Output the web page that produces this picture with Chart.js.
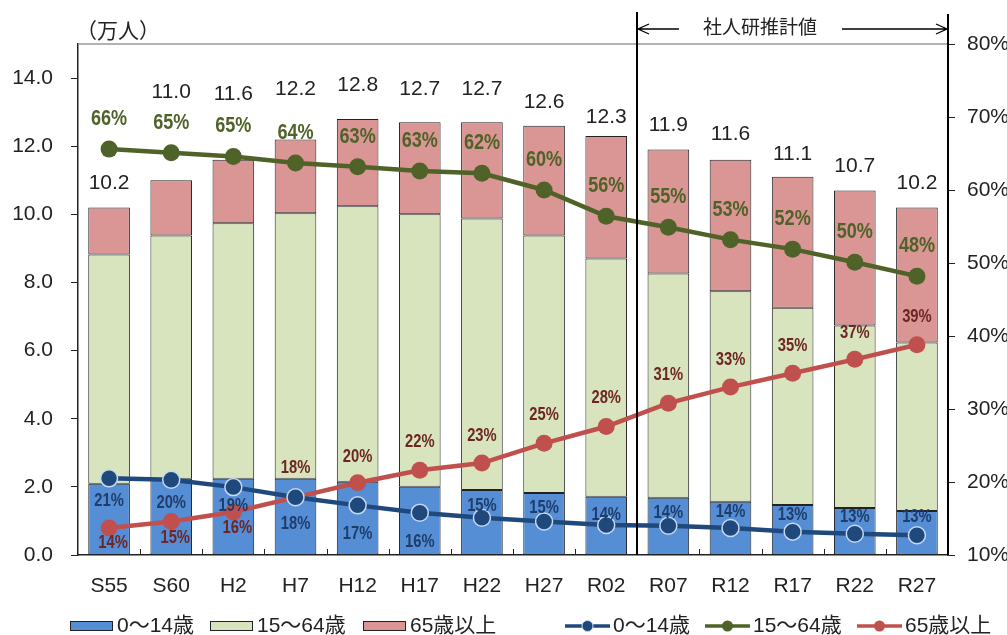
<!DOCTYPE html>
<html>
<head>
<meta charset="utf-8">
<script src="https://cdn.jsdelivr.net/npm/chart.js@4"></script>
<style>
  html, body { margin: 0; padding: 0; background: #fff; }
  #wrap { width: 1007px; height: 635px; }
</style>
</head>
<body>
<div id="wrap"><canvas id="popChart" width="1007" height="635"></canvas></div>
<script>
// 年次
const categories = ['S55', 'S60', 'H2', 'H7', 'H12', 'H17', 'H22', 'H27', 'R02', 'R07', 'R12', 'R17', 'R22', 'R27'];

// 人口（万人）
const pop0to14  = [2.09, 2.24, 2.24, 2.24, 2.15, 2.00, 1.91, 1.82, 1.71, 1.68, 1.56, 1.47, 1.38, 1.29];
const pop15to64 = [6.73, 7.14, 7.50, 7.79, 8.09, 8.00, 7.97, 7.56, 6.99, 6.58, 6.18, 5.79, 5.36, 4.95];
const pop65over = [1.38, 1.62, 1.86, 2.17, 2.56, 2.70, 2.82, 3.22, 3.60, 3.64, 3.86, 3.84, 3.96, 3.96];

// 構成比（%）
const share0to14  = [20.5, 20.3, 19.3, 17.9, 16.8, 15.8, 15.1, 14.6, 14.1, 14.0, 13.7, 13.2, 12.9, 12.7];
const share15to64 = [65.6, 65.1, 64.6, 63.7, 63.2, 62.6, 62.3, 60.0, 56.4, 54.9, 53.2, 51.9, 50.1, 48.2];
const share65over = [13.7, 14.6, 15.9, 17.9, 19.9, 21.6, 22.6, 25.3, 27.6, 30.8, 33.0, 34.9, 36.8, 38.8];

// 軸目盛
const leftTicks = [0, 2, 4, 6, 8, 10, 12, 14];
const rightTicks = [10, 20, 30, 40, 50, 60, 70, 80];

// 推計値の開始位置（R07 から）
const estimateStart = 'R07';

// ラベルの位置ずらし（px）
const totalLift = [0, 64, 42, 26, 10, 9, 9, 0, -5, 0, 2, -1, 0, 0];
const young_dy = [23, 23, 19, 27, 29, 29, -12, -13, -10, -13, -16, -17, -17, -18];
const old_dy = [15, 17, 16, -29, -26, -28, -27, -28, -28, -28, -27, -27, -26, -28];
const legendX = [70, 210, 363, 565, 705, 857];

const CJK = "'Noto Sans CJK JP', 'Noto Sans', sans-serif";
const FONT = "'Liberation Sans', " + CJK;
Chart.defaults.font.family = FONT;
Chart.defaults.color = '#222';

// 縦長の文字（横方向に縮める）
function narrowText(ctx, text, x, y, sx) {
    ctx.save();
    ctx.translate(x, y);
    ctx.scale(sx, 1);
    ctx.fillText(text, 0, 0);
    ctx.restore();
}

const overlay = {
    id: 'overlay',
    afterDatasetsDraw(chart) {
        const ctx = chart.ctx;
        const a = chart.chartArea;
        const x = chart.scales.x, y = chart.scales.y, y1 = chart.scales.y1;
        ctx.save();

        // 上の枠線
        ctx.strokeStyle = '#999';
        ctx.lineWidth = 1.5;
        ctx.beginPath();
        ctx.moveTo(a.left, a.top);
        ctx.lineTo(a.right, a.top);
        ctx.stroke();

        // x軸の内向き目盛
        ctx.strokeStyle = '#222';
        ctx.lineWidth = 1;
        for (let i = 1; i < categories.length; i++) {
            const xx = Math.round((x.getPixelForValue(i - 1) + x.getPixelForValue(i)) / 2) + 0.5;
            ctx.beginPath();
            ctx.moveTo(xx, a.bottom);
            ctx.lineTo(xx, a.bottom - 6);
            ctx.stroke();
        }

        // 合計ラベル
        ctx.fillStyle = '#222';
        ctx.font = '21px ' + FONT;
        ctx.textAlign = 'center';
        ctx.textBaseline = 'middle';
        for (let i = 0; i < categories.length; i++) {
            const total = pop0to14[i] + pop15to64[i] + pop65over[i];
            const yy = y.getPixelForValue(total) - 24 - totalLift[i];
            ctx.fillText(total.toFixed(1), x.getPixelForValue(i), yy);
        }

        // 構成比ラベル
        ctx.font = 'bold 22px ' + FONT;
        ctx.fillStyle = '#4f6228';
        share15to64.forEach((v, i) => {
            narrowText(ctx, Math.round(v) + '%', x.getPixelForValue(i), y1.getPixelForValue(v) - 30, 0.82);
        });
        ctx.font = 'bold 18px ' + FONT;
        ctx.fillStyle = '#6e2624';
        share65over.forEach((v, i) => {
            narrowText(ctx, Math.round(v) + '%', x.getPixelForValue(i) + (old_dy[i] > 0 ? 4 : 0), y1.getPixelForValue(v) + old_dy[i], 0.82);
        });
        ctx.fillStyle = '#1f3d6b';
        share0to14.forEach((v, i) => {
            narrowText(ctx, Math.round(v) + '%', x.getPixelForValue(i), y1.getPixelForValue(v) + young_dy[i], 0.82);
        });

        // 推計値の区切り
        const k = categories.indexOf(estimateStart);
        const xd = Math.round((x.getPixelForValue(k - 1) + x.getPixelForValue(k)) / 2);
        ctx.strokeStyle = '#000';
        ctx.lineWidth = 2;
        ctx.beginPath();
        ctx.moveTo(xd, 12);
        ctx.lineTo(xd, a.bottom);
        ctx.moveTo(a.right, 14);
        ctx.lineTo(a.right, a.bottom);
        ctx.stroke();

        ctx.font = '19px ' + CJK;
        ctx.fillStyle = '#222';
        const label = '社人研推計値';
        const tw = ctx.measureText(label).width;
        const tx = xd + 66;
        const ay = 29;
        ctx.textAlign = 'left';
        ctx.fillText(label, tx, ay - 2);
        ctx.lineWidth = 1.3;
        ctx.beginPath();
        ctx.moveTo(xd + 1, ay);
        ctx.lineTo(tx - 24, ay);
        ctx.moveTo(xd + 12, ay - 5);
        ctx.lineTo(xd + 1, ay);
        ctx.lineTo(xd + 12, ay + 5);
        ctx.moveTo(tx + tw + 25, ay);
        ctx.lineTo(a.right - 1, ay);
        ctx.moveTo(a.right - 12, ay - 5);
        ctx.lineTo(a.right - 1, ay);
        ctx.lineTo(a.right - 12, ay + 5);
        ctx.stroke();

        // 単位
        ctx.font = '21px ' + CJK;
        ctx.textAlign = 'left';
        ctx.fillText('（万人）', 76, 30);

        ctx.restore();
    },
    afterDraw(chart) {
        // 凡例
        const ctx = chart.ctx;
        const ds = chart.data.datasets;
        ctx.save();
        ctx.font = '21px ' + FONT;
        ctx.textBaseline = 'middle';
        ctx.textAlign = 'left';
        const ly = 626;
        ds.forEach((d, i) => {
            let lx = legendX[i];
            if (d.type === 'line') {
                ctx.strokeStyle = d.borderColor;
                ctx.lineWidth = 3.5;
                ctx.beginPath();
                ctx.moveTo(lx, ly);
                ctx.lineTo(lx + 45, ly);
                ctx.stroke();
                ctx.fillStyle = d.borderColor;
                ctx.beginPath();
                ctx.arc(lx + 22.5, ly, 5.5, 0, Math.PI * 2);
                ctx.fill();
                if (d.pointBorderColor !== d.borderColor) {
                    ctx.strokeStyle = d.pointBorderColor;
                    ctx.lineWidth = 1;
                    ctx.stroke();
                }
                lx += 48;
            } else {
                ctx.fillStyle = d.backgroundColor;
                ctx.fillRect(lx, ly - 4.5, 42, 9);
                ctx.strokeStyle = '#222';
                ctx.lineWidth = 1;
                ctx.strokeRect(lx + 0.5, ly - 4.5, 42, 9);
                lx += 47;
            }
            ctx.fillStyle = '#222';
            ctx.fillText(d.label, lx, ly);
        });
        ctx.restore();
    }
};

const barCommon = {
    type: 'bar',
    yAxisID: 'y',
    borderColor: '#222',
    borderWidth: 1,
    borderSkipped: false,
    barPercentage: 0.67,
    categoryPercentage: 1,
    order: 2
};

const lineCommon = {
    type: 'line',
    yAxisID: 'y1',
    borderWidth: 4.5,
    pointRadius: 8.5,
    pointHoverRadius: 8.5,
    tension: 0,
    order: 1
};

new Chart(document.getElementById('popChart'), {
    data: {
        labels: categories,
        datasets: [
            Object.assign({}, barCommon, { label: '0～14歳', data: pop0to14, backgroundColor: '#558ed5' }),
            Object.assign({}, barCommon, { label: '15～64歳', data: pop15to64, backgroundColor: '#d7e4bd' }),
            Object.assign({}, barCommon, { label: '65歳以上', data: pop65over, backgroundColor: '#d99694' }),
            Object.assign({}, lineCommon, {
                label: '0～14歳', data: share0to14, borderColor: '#1f497d',
                pointBackgroundColor: '#1f497d', pointBorderColor: '#c6d9f1', pointBorderWidth: 1.5
            }),
            Object.assign({}, lineCommon, {
                label: '15～64歳', data: share15to64, borderColor: '#4f6228',
                pointBackgroundColor: '#4f6228', pointBorderColor: '#4f6228', pointBorderWidth: 0
            }),
            Object.assign({}, lineCommon, {
                label: '65歳以上', data: share65over, borderColor: '#c0504d',
                pointBackgroundColor: '#c0504d', pointBorderColor: '#c0504d', pointBorderWidth: 0
            })
        ]
    },
    options: {
        responsive: false,
        animation: false,
        layout: { padding: { top: 44, bottom: 35, left: 0, right: 0 } },
        plugins: {
            legend: { display: false },
            tooltip: { enabled: false }
        },
        scales: {
            x: {
                stacked: true,
                grid: { display: false },
                border: { display: true, color: '#222', width: 1.5 },
                ticks: { font: { size: 21 }, color: '#222', padding: 11 },
                afterFit: s => { s.height = 45; }
            },
            y: {
                position: 'left',
                stacked: true,
                min: 0,
                max: 15,
                afterBuildTicks: s => { s.ticks = leftTicks.map(v => ({ value: v })); },
                grid: { drawOnChartArea: false, drawTicks: true, tickLength: 7, color: '#222' },
                border: { display: true, color: '#222', width: 1.5 },
                ticks: { font: { size: 21 }, color: '#222', padding: 18, callback: v => v.toFixed(1) },
                afterFit: s => { s.width = 78; }
            },
            y1: {
                position: 'right',
                min: 10,
                max: 80,
                afterBuildTicks: s => { s.ticks = rightTicks.map(v => ({ value: v })); },
                grid: { drawOnChartArea: false, drawTicks: true, tickLength: 7, color: '#222' },
                border: { display: true, color: '#222', width: 1.5 },
                ticks: { font: { size: 21 }, color: '#222', padding: 12, callback: v => v + '%' },
                afterFit: s => { s.width = 59; }
            }
        }
    },
    plugins: [overlay]
});
</script>
</body>
</html>
